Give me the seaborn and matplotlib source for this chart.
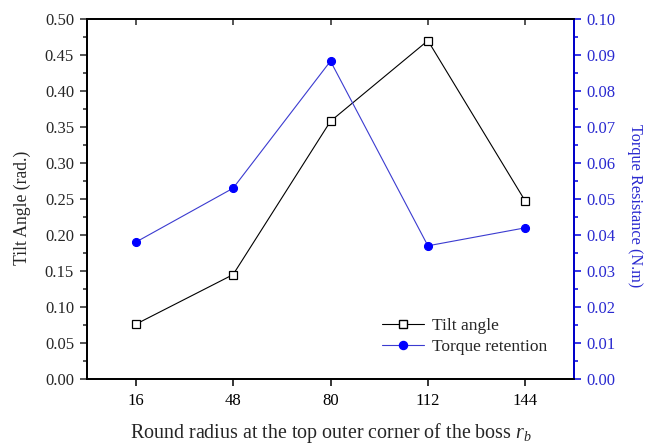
import matplotlib
matplotlib.use("Agg")
import matplotlib.pyplot as plt
import seaborn as sns
import pandas as pd
from matplotlib.ticker import MultipleLocator
from matplotlib.lines import Line2D

radius = [16, 48, 80, 112, 144]
tilt_angle = [0.076, 0.145, 0.358, 0.470, 0.247]
torque = [0.038, 0.053, 0.0883, 0.037, 0.042]
x_ticks = [16, 48, 80, 112, 144]

sns.set_theme(style="ticks")
plt.rcParams["font.family"] = ["Liberation Serif", "DejaVu Serif"]
plt.rcParams["mathtext.fontset"] = "custom"
plt.rcParams["mathtext.rm"] = "Liberation Serif"
plt.rcParams["mathtext.it"] = "Liberation Serif:italic"

df = pd.DataFrame({"radius": radius, "tilt": tilt_angle, "torque": torque})

BLUE_LINE = "#3b3bd0"
BLUE = "#0000ff"
BLUE_AX = "#0000dd"
BLUE_TXT = "#2a2ad0"

fig = plt.figure(figsize=(6.61, 4.46), dpi=100)
ax = fig.add_axes([0.1316, 0.1502, 0.7368, 0.8072])
ax2 = ax.twinx()

sns.lineplot(data=df, x="radius", y="tilt", ax=ax, color="black", linewidth=0.8,
             marker="s", markersize=5.2, markerfacecolor="white", markeredgecolor="black",
             markeredgewidth=0.9)
sns.lineplot(data=df, x="radius", y="torque", ax=ax2, color=BLUE_LINE, linewidth=0.8,
             marker="o", markersize=5.8, markerfacecolor=BLUE, markeredgecolor=BLUE)

ax.set_xlim(0, 160)
ax.set_ylim(0, 0.5)
ax2.set_ylim(0, 0.1)
ax.set_xticks(x_ticks)
ax.set_xticklabels([str(v) for v in x_ticks])
ax.yaxis.set_major_locator(MultipleLocator(0.05))
ax.yaxis.set_minor_locator(MultipleLocator(0.025))
ax2.yaxis.set_major_locator(MultipleLocator(0.01))
ax2.yaxis.set_minor_locator(MultipleLocator(0.005))
ax.set_yticklabels([f"{v:.2f}" for v in ax.get_yticks()])
ax2.set_yticklabels([f"{v:.2f}" for v in ax2.get_yticks()])

for a in (ax, ax2):
    for s in a.spines.values():
        s.set_visible(True)
        s.set_linewidth(1.3)
        s.set_color("black")
ax2.spines["right"].set_color(BLUE_AX)

ax.tick_params(axis="x", which="major", direction="out", length=5, width=1.1,
               labelsize=12, colors="black", top=False, bottom=True, pad=5)
ax.tick_params(axis="x", which="minor", bottom=False, top=False)
ax.tick_params(axis="y", which="major", direction="out", length=5, width=1.1,
               labelsize=12, pad=4.3)
ax.tick_params(axis="y", which="minor", direction="out", length=3, width=1.1)
ax2.tick_params(axis="y", which="major", direction="out", length=5, width=1.1,
                labelsize=12, colors=BLUE_AX, labelcolor=BLUE_TXT, pad=3.6)
ax2.tick_params(axis="y", which="minor", direction="out", length=3, width=1.1, colors=BLUE_AX)

top = ax.secondary_xaxis("top")
top.set_xticks(x_ticks)
top.tick_params(axis="x", direction="in", length=4, width=1.1, labeltop=False)
top.spines["top"].set_visible(False)

ax.set_xlabel("Round radius at the top outer corner of the boss $r_b$", fontsize=14.4, labelpad=9)
ax.set_ylabel("Tilt Angle (rad.)", fontsize=12.7, va="center")
ax.yaxis.set_label_coords(-0.133, 0.475)
ax2.set_ylabel("Torque Resistance (N.m)", fontsize=11.7, color=BLUE_TXT, rotation=270,
               va="center")
ax2.yaxis.set_label_coords(1.126, 0.483)

handles = [
    Line2D([], [], color="black", linewidth=0.8, marker="s", markersize=5.2,
           markerfacecolor="white", markeredgecolor="black"),
    Line2D([], [], color=BLUE_LINE, linewidth=0.8, marker="o", markersize=5.8,
           markerfacecolor=BLUE, markeredgecolor=BLUE),
]
ax.legend(handles, ["Tilt angle", "Torque retention"], loc="center left",
          bbox_to_anchor=(0.606, 0.119), frameon=False, fontsize=12.5,
          handlelength=2.4, handletextpad=0.46, labelspacing=0.27,
          borderpad=0, borderaxespad=0)

fig.savefig("out.png", dpi=100)
